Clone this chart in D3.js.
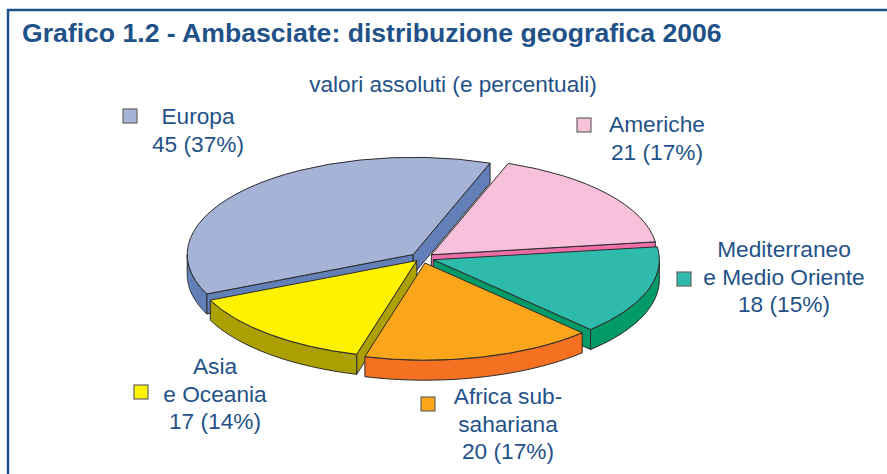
<!DOCTYPE html>
<html>
<head>
<meta charset="utf-8">
<script src="https://cdnjs.cloudflare.com/ajax/libs/d3/7.8.5/d3.min.js"></script>
<style>
  html, body { margin: 0; padding: 0; background: #fff; overflow: hidden; }
  text { font-family: "Liberation Sans", Arial, sans-serif; fill: #1f5288; }
</style>
</head>
<body>
<div id="chart"></div>
<script>
var categories = ['Europa', 'Americhe', 'Mediterraneo e Medio Oriente', 'Africa sub-sahariana', 'Asia e Oceania']
var values = [45, 21, 18, 20, 17]
var percents = [37, 17, 15, 17, 14]
var labelLines = [
  ['Europa', '45 (37%)'],
  ['Americhe', '21 (17%)'],
  ['Mediterraneo', 'e Medio Oriente', '18 (15%)'],
  ['Africa sub-', 'sahariana', '20 (17%)'],
  ['Asia', 'e Oceania', '17 (14%)']
]
var topColors = ['#a5b3d6', '#f8c0da', '#2fbbab', '#fba51b', '#fff200']
var sideColors = ['#627fb8', '#ee6fa8', '#019a68', '#f47122', '#aca000']
var labelX = [198, 657, 784, 508, 215]
var labelY = [124, 132, 257, 404, 374]
var swatchX = [123, 577, 677, 421, 134]
var swatchY = [109, 118, 272, 397, 385]
var explode = [12, 12, 12, 12, 8]
// draw order, back to front
var drawOrder = [0, 1, 2, 4, 3]

var WIDTH = 887
var HEIGHT = 474
var CX = 422, CY = 258
var RADIUS = 226
var TILT = 0.43
var DEPTH = 20
var START = 246 * Math.PI / 180
var BLUE = '#1f5288'

var svg = d3.select('#chart').append('svg')
  .attr('width', WIDTH)
  .attr('height', HEIGHT)
  .style('display', 'block')

// frame runs off the right and bottom of the picture
svg.append('path')
  .attr('d', 'M' + WIDTH + ',10H8V' + HEIGHT)
  .attr('fill', 'none')
  .attr('stroke', BLUE)
  .attr('stroke-width', 2.5)

svg.append('text')
  .attr('x', 22)
  .attr('y', 42)
  .attr('font-size', 26.6)
  .attr('font-weight', 'bold')
  .text('Grafico 1.2 - Ambasciate: distribuzione geografica 2006')

svg.append('text')
  .attr('x', 453)
  .attr('y', 92)
  .attr('text-anchor', 'middle')
  .attr('font-size', 22.6)
  .text('valori assoluti (e percentuali)')

var pie = d3.pie().sort(null)
  .startAngle(START)
  .endAngle(START + 2 * Math.PI)
var slices = pie(values)

var arc = d3.arc().innerRadius(0).outerRadius(RADIUS)

// project an angle (clockwise from 12 o'clock) and radius onto the tilted plane
function project(angle, r) {
  return [r * Math.sin(angle), -r * Math.cos(angle) * TILT]
}

var line = d3.line()

drawOrder.forEach(function(i) {
  var d = slices[i]
  var mid = (d.startAngle + d.endAngle) / 2
  var shift = project(mid, explode[i])
  var g = svg.append('g')
    .attr('transform', 'translate(' + (CX + shift[0]) + ',' + (CY + shift[1]) + ')')

  var edges = [d.startAngle, d.endAngle]
  edges.forEach(function(a, k) {
    // radial wall, only where it faces the viewer
    var normal = k === 0 ? a - Math.PI / 2 : a + Math.PI / 2
    if (Math.cos(normal) > 0) return
    var p = project(a, RADIUS)
    g.append('path')
      .attr('d', line([[0, 0], p, [p[0], p[1] + DEPTH], [0, DEPTH]]) + 'Z')
      .attr('fill', sideColors[i])
      .attr('stroke', '#2b2b2b')
      .attr('stroke-width', 1)
      .attr('stroke-linejoin', 'round')
  })

  // outer wall, front half of the ellipse only
  var turn = Math.floor(d.startAngle / (2 * Math.PI)) * 2 * Math.PI
  var from = Math.max(d.startAngle, turn + Math.PI / 2)
  var to = Math.min(d.endAngle, turn + 3 * Math.PI / 2)
  if (from < to) {
    var top = d3.range(0, 41).map(function(t) { return project(from + (to - from) * t / 40, RADIUS) })
    var bottom = top.map(function(p) { return [p[0], p[1] + DEPTH] }).reverse()
    g.append('path')
      .attr('d', line(top.concat(bottom)) + 'Z')
      .attr('fill', sideColors[i])
      .attr('stroke', '#2b2b2b')
      .attr('stroke-width', 1)
      .attr('stroke-linejoin', 'round')
  }

  g.append('path')
    .attr('d', arc(d))
    .attr('transform', 'scale(1,' + TILT + ')')
    .attr('fill', topColors[i])
    .attr('stroke', '#2b2b2b')
    .attr('stroke-width', 1)
    .attr('vector-effect', 'non-scaling-stroke')
    .attr('stroke-linejoin', 'round')
})

categories.forEach(function(name, i) {
  svg.append('rect')
    .attr('x', swatchX[i])
    .attr('y', swatchY[i])
    .attr('width', 14)
    .attr('height', 14)
    .attr('fill', topColors[i])
    .attr('stroke', '#666')
    .attr('stroke-width', 1.2)

  var label = svg.append('text')
    .attr('text-anchor', 'middle')
    .attr('font-size', 22.7)
  labelLines[i].forEach(function(t, k) {
    label.append('tspan')
      .attr('x', labelX[i])
      .attr('y', labelY[i] + k * 27.5)
      .text(t)
  })
})
</script>
</body>
</html>
